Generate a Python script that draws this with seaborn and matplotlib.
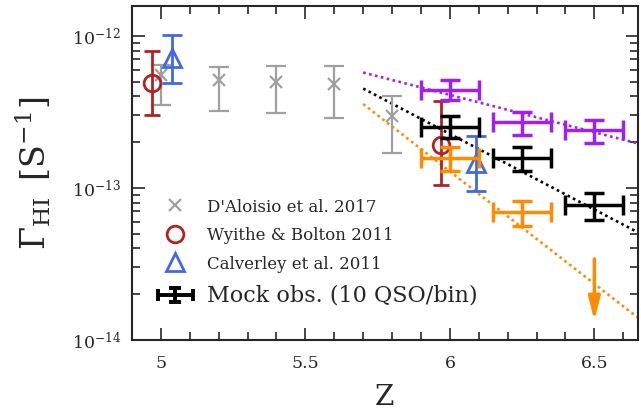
import numpy as np
import pandas as pd
import matplotlib
matplotlib.use("Agg")
import matplotlib.pyplot as plt
from matplotlib.lines import Line2D
from matplotlib.container import ErrorbarContainer
from matplotlib.legend_handler import HandlerErrorbar
from matplotlib.ticker import MultipleLocator, LogLocator, NullFormatter, LogFormatterSciNotation
import seaborn as sns

# ---- literature measurements ----
dal_z = [5.0, 5.2, 5.4, 5.6, 5.8]
dal_g = [5.5e-13, 5.1e-13, 5.0e-13, 4.8e-13, 2.95e-13]
dal_hi = [6.45e-13, 6.2e-13, 6.3e-13, 6.3e-13, 4.0e-13]
dal_lo = [3.5e-13, 3.2e-13, 3.1e-13, 2.9e-13, 1.7e-13]

wb_z = [4.97, 5.97]
wb_g = [4.9e-13, 1.9e-13]
wb_hi = [8.0e-13, 3.7e-13]
wb_lo = [3.0e-13, 1.04e-13]

cal_z = [5.04, 6.09]
cal_g = [7.1e-13, 1.45e-13]
cal_hi = [1.02e-12, 2.2e-13]
cal_lo = [4.9e-13, 9.5e-14]

# ---- mock observations (10 QSO per bin) ----
mock_z = [6.0, 6.25, 6.5]
mock_dz = [0.1, 0.1, 0.1]

purple_g = [4.4e-13, 2.72e-13, 2.41e-13]
purple_hi = [5.1e-13, 3.16e-13, 2.8e-13]
purple_lo = [3.8e-13, 2.22e-13, 1.97e-13]

black_g = [2.53e-13, 1.58e-13, 7.7e-14]
black_hi = [2.95e-13, 1.85e-13, 9.3e-14]
black_lo = [2.12e-13, 1.29e-13, 6.1e-14]

orange_z = [6.0, 6.25]
orange_g = [1.58e-13, 6.95e-14]
orange_hi = [1.85e-13, 8.2e-14]
orange_lo = [1.29e-13, 5.6e-14]
orange_limit_z = 6.5
orange_limit = 3.4e-14
orange_limit_tip = 1.33e-14

# ---- model trends ----
trend_z = [5.7, 6.65]
trend_purple = [5.74e-13, 1.96e-13]
trend_black = [4.5e-13, 5.1e-14]
trend_orange = [3.56e-13, 1.40e-14]

y_ticks = [1e-14, 1e-13, 1e-12]
x_ticks = [5, 5.5, 6, 6.5]
x_ticklabels = ["5", "5.5", "6", "6.5"]

GRAY = "#a0a0a0"
RED = "#b22222"
BLUE = "#4169e1"
PURPLE = "#a020f0"
ORANGE = "#ff8c00"

sns.set_style("ticks")
plt.rcParams["font.family"] = ["DejaVu Serif"]
plt.rcParams["mathtext.fontset"] = "dejavuserif"

fig = plt.figure(figsize=(6.41, 4.10), dpi=100)
ax = fig.add_axes([0.2059, 0.169, 0.789, 0.8146])


def asym(g, hi, lo):
    g = np.asarray(g)
    return np.vstack([g - np.asarray(lo), np.asarray(hi) - g])


# dotted trend lines
trends = pd.DataFrame({
    "z": trend_z * 3,
    "gamma": trend_purple + trend_black + trend_orange,
    "run": ["p"] * 2 + ["k"] * 2 + ["o"] * 2,
})
sns.lineplot(data=trends, x="z", y="gamma", hue="run",
             palette={"p": PURPLE, "k": "black", "o": ORANGE},
             linestyle=(0, (1, 1.3)), linewidth=1.9, legend=False, ax=ax,
             zorder=1)

# literature points
ax.errorbar(dal_z, dal_g, yerr=asym(dal_g, dal_hi, dal_lo), fmt="x",
            color=GRAY, ms=9, mew=1.6, elinewidth=1.6, capsize=7,
            capthick=1.6, zorder=2)
ax.errorbar(wb_z, wb_g, yerr=asym(wb_g, wb_hi, wb_lo), fmt="o",
            mfc="none", mec=RED, color=RED, ms=12, mew=2, elinewidth=2,
            capsize=6, capthick=2, zorder=2)
ax.errorbar(cal_z, cal_g, yerr=asym(cal_g, cal_hi, cal_lo), fmt="^",
            mfc="none", mec=BLUE, color=BLUE, ms=13, mew=2, elinewidth=2,
            capsize=7, capthick=2, zorder=2)

# mock observations
mock_kw = dict(fmt="none", elinewidth=2.5, capsize=7, capthick=2.5, zorder=3)
ax.errorbar(mock_z, purple_g, xerr=mock_dz,
            yerr=asym(purple_g, purple_hi, purple_lo), color=PURPLE, **mock_kw)
ax.errorbar(mock_z, black_g, xerr=mock_dz,
            yerr=asym(black_g, black_hi, black_lo), color="black", **mock_kw)
ax.errorbar(orange_z, orange_g, xerr=mock_dz[:2],
            yerr=asym(orange_g, orange_hi, orange_lo), color=ORANGE, **mock_kw)
ax.annotate("", xy=(orange_limit_z, orange_limit_tip),
            xytext=(orange_limit_z, orange_limit),
            arrowprops=dict(arrowstyle="-|>,head_length=1.4,head_width=0.35",
                            color=ORANGE, lw=2.5, shrinkA=0, shrinkB=0),
            zorder=3)

# legend key for the mock points (smaller caps than the data bars)
mock_key = ax.errorbar([np.nan], [np.nan], xerr=[0.1], yerr=[1e-14],
                       fmt="none", color="black", elinewidth=2.8,
                       capsize=4.5, capthick=2.8)

ax.set_yscale("log")
ax.set_xlim(4.9, 6.65)
ax.set_ylim(1e-14, 1.58e-12)

ax.xaxis.set_minor_locator(MultipleLocator(0.1))
ax.set_xticks(x_ticks, labels=x_ticklabels)
ax.set_yticks(y_ticks)
ax.yaxis.set_major_formatter(LogFormatterSciNotation())
ax.yaxis.set_minor_locator(LogLocator(base=10, subs=np.arange(2, 10)))
ax.yaxis.set_minor_formatter(NullFormatter())

ax.tick_params(which="both", direction="in", top=True, right=True,
               width=1.2, labelsize=12.5)
ax.tick_params(axis="x", pad=10)
ax.tick_params(axis="y", pad=8)
ax.tick_params(which="major", length=9)
ax.tick_params(which="minor", length=5.5)
for s in ax.spines.values():
    s.set_linewidth(1.5)

ax.set_xlabel("Z", fontsize=20)
ax.xaxis.set_label_coords(0.5, -0.170)
ax.xaxis.label.set_va("center")
ax.set_ylabel(r"$\Gamma_{\rm HI}\ \,[{\rm S}^{-1}]$", fontsize=24)
ax.yaxis.set_label_coords(-0.196, 0.5)
ax.yaxis.label.set_va("center")

handles = [
    Line2D([], [], ls="none", marker="x", color=GRAY, ms=8, mew=1.6),
    Line2D([], [], ls="none", marker="o", mfc="none", mec=RED, ms=12, mew=2),
    Line2D([], [], ls="none", marker="^", mfc="none", mec=BLUE, ms=13, mew=2),
    mock_key,
]
labels = ["D'Aloisio et al. 2017", "Wyithe & Bolton 2011",
          "Calverley et al. 2011", "Mock obs. (10 QSO/bin)"]
leg = ax.legend(handles, labels, loc="upper left",
                bbox_to_anchor=(0.039, 0.445), frameon=False, fontsize=12,
                handlelength=2.0, handletextpad=0.9, labelspacing=0.7,
                borderaxespad=0,
                handler_map={ErrorbarContainer: HandlerErrorbar(xerr_size=1.05,
                                                                yerr_size=0.4)})
leg.get_texts()[3].set_fontsize(16)

fig.savefig("out.png", dpi=100)
